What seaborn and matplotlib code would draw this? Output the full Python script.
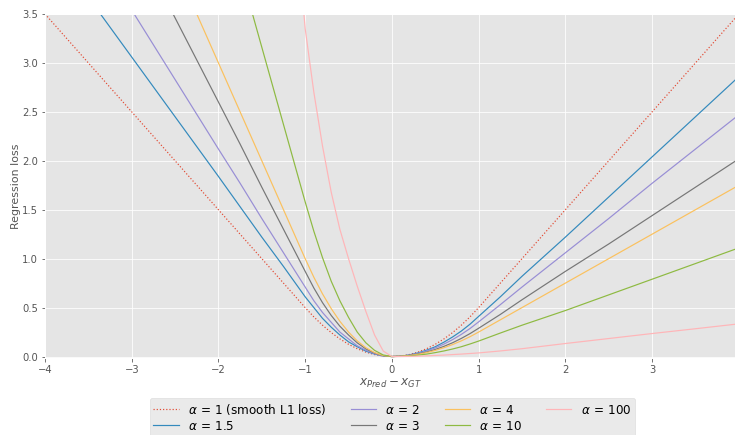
import numpy as np
import matplotlib
matplotlib.use("Agg")
import matplotlib.pyplot as plt
from matplotlib.lines import Line2D
import seaborn as sns

x_vals = [-4, -3.5, -3, -2.5, -2, -1.75, -1.5, -1.25, -1, -0.9, -0.8, -0.7, -0.6, -0.5,
          -0.4, -0.3, -0.2, -0.1, 0, 0.1, 0.2, 0.3, 0.4, 0.5, 0.6, 0.7, 0.8, 0.9, 1.0,
          1.25, 1.5, 2, 2.5, 3, 3.5, 4]

loss_a1 = [3.5, 3.0, 2.5, 2.0, 1.5, 1.25, 1.0, 0.75, 0.5, 0.405, 0.32, 0.245, 0.18, 0.125,
           0.08, 0.045, 0.02, 0.005, 0, 0.005, 0.02, 0.045, 0.08, 0.125, 0.18, 0.245, 0.32, 0.405, 0.5,
           0.75, 1.0, 1.5, 2.0, 2.5, 3.0, 3.5]
loss_a15 = [4.29, 3.67, 3.06, 2.45, 1.84, 1.53, 1.22, 0.92, 0.61, 0.50, 0.39, 0.30, 0.22, 0.15,
            0.10, 0.055, 0.025, 0.006, 0, 0.004, 0.016, 0.037, 0.065, 0.10, 0.147, 0.20, 0.26, 0.33, 0.41,
            0.61, 0.82, 1.22, 1.63, 2.04, 2.45, 2.86]
loss_a2 = [4.95, 4.24, 3.54, 2.83, 2.12, 1.77, 1.41, 1.06, 0.71, 0.57, 0.45, 0.35, 0.25, 0.18,
           0.11, 0.064, 0.028, 0.007, 0, 0.0035, 0.014, 0.032, 0.057, 0.088, 0.127, 0.173, 0.226, 0.286, 0.354,
           0.53, 0.71, 1.06, 1.41, 1.77, 2.12, 2.47]
loss_a3 = [6.06, 5.2, 4.33, 3.46, 2.60, 2.17, 1.73, 1.30, 0.87, 0.70, 0.55, 0.42, 0.31, 0.22,
           0.14, 0.078, 0.035, 0.009, 0, 0.003, 0.012, 0.026, 0.046, 0.072, 0.104, 0.141, 0.185, 0.234, 0.289,
           0.43, 0.58, 0.87, 1.15, 1.44, 1.73, 2.02]
loss_a4 = [7.0, 6.0, 5.0, 4.0, 3.0, 2.5, 2.0, 1.5, 1.0, 0.81, 0.64, 0.49, 0.36, 0.25,
           0.16, 0.09, 0.04, 0.01, 0, 0.0025, 0.01, 0.0225, 0.04, 0.0625, 0.09, 0.1225, 0.16, 0.2025, 0.25,
           0.375, 0.5, 0.75, 1.0, 1.25, 1.5, 1.75]
loss_a10 = [11.07, 9.49, 7.9, 6.32, 4.74, 3.95, 3.16, 2.37, 1.58, 1.28, 1.01, 0.77, 0.57, 0.40,
            0.25, 0.14, 0.063, 0.016, 0, 0.0016, 0.006, 0.014, 0.025, 0.04, 0.057, 0.077, 0.10, 0.128, 0.158,
            0.24, 0.32, 0.47, 0.63, 0.79, 0.95, 1.11]
loss_a100 = [np.nan, np.nan, np.nan, np.nan, np.nan, np.nan, np.nan, 5.9, 3.35, 2.7, 2.15, 1.68, 1.30, 1.0,
             0.72, 0.46, 0.22, 0.056, 0, 0.0005, 0.002, 0.004, 0.007, 0.011, 0.015, 0.02, 0.025, 0.031, 0.037,
             0.057, 0.08, 0.133, 0.184, 0.235, 0.284, 0.334]

labels = [r"$\alpha\,=\,1$ (smooth L1 loss)", r"$\alpha\,=\,1.5$", r"$\alpha\,=\,2$", r"$\alpha\,=\,3$",
          r"$\alpha\,=\,4$", r"$\alpha\,=\,10$", r"$\alpha\,=\,100$"]
series = [loss_a1, loss_a15, loss_a2, loss_a3, loss_a4, loss_a10, loss_a100]
colors = ["#E24A33", "#348ABD", "#988ED5", "#777777", "#FBC15E", "#8EBA42", "#FFB5B8"]
styles = [":", "-", "-", "-", "-", "-", "-"]

plt.style.use("ggplot")
fig = plt.figure(figsize=(735 / 72, 435 / 72), dpi=72)
ax = fig.add_axes([45 / 735, 1 - 358 / 435, 1 - 45 / 735, (358 - 14) / 435])

for vals, col, ls in zip(series, colors, styles):
    xs = np.array(x_vals, dtype=float)
    ys = np.array(vals, dtype=float)
    m = ~np.isnan(ys)
    sns.lineplot(x=xs[m], y=ys[m], ax=ax, color=col, linestyle=ls, linewidth=1.2,
                 sort=False, estimator=None, legend=False)

ax.set_xlim(-4, 3.956)
ax.set_ylim(-0.015, 3.5)
ax.set_xticks([-4, -3, -2, -1, 0, 1, 2, 3])
ax.set_xticklabels(["\u22124", "\u22123", "\u22122", "\u22121", "0", "1", "2", "3"])
ax.set_yticks([0, 0.5, 1.0, 1.5, 2.0, 2.5, 3.0, 3.5])
ax.set_yticklabels(["0.0", "0.5", "1.0", "1.5", "2.0", "2.5", "3.0", "3.5"])
ax.set_xlabel(r"$x_{Pred} - x_{GT}$", fontsize=12, labelpad=2)
ax.set_ylabel("Regression loss", fontsize=11, labelpad=1)
ax.tick_params(labelsize=10)

handles = [Line2D([], [], color=c, linestyle=s, linewidth=1.2) for c, s in zip(colors, styles)]
leg = fig.legend(handles, labels, loc="upper center", ncol=4,
                 bbox_to_anchor=(392.5 / 735, 1 - 398 / 435), fontsize=12,
                 borderaxespad=0.0, columnspacing=2.0, handlelength=2.1,
                 labelspacing=0.25, borderpad=0.3)
for h, c in zip(leg.legend_handles, colors):
    h.set_color(c)

fig.savefig("out.png", dpi=72)
